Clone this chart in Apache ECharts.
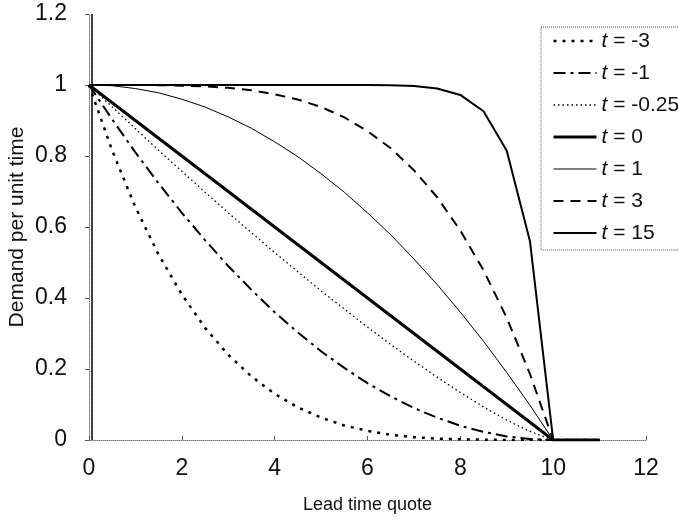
<!DOCTYPE html>
<html>
<head>
<meta charset="utf-8">
<script src="https://cdn.jsdelivr.net/npm/echarts@6/dist/echarts.min.js"></script>
<style>
html,body{margin:0;padding:0;background:#fff;}
#c{width:678px;height:520px;}
</style>
</head>
<body>
<div id="c"></div>
<script>
// Lead time quote values (x)
var leadTimes = [0,0.5,1,1.5,2,2.5,3,3.5,4,4.5,5,5.5,6,6.5,7,7.5,8,8.5,9,9.5,10,11];
var seriesNames = ['t = -3','t = -1','t = -0.25','t = 0','t = 1','t = 3','t = 15'];
var tMinus3 = [1,0.815,0.656,0.522,0.41,0.316,0.24,0.179,0.13,0.092,0.063,0.041,0.026,0.015,0.008,0.004,0.002,0.001,0,0,0,0];
var tMinus1 = [1,0.903,0.81,0.723,0.64,0.563,0.49,0.423,0.36,0.303,0.25,0.203,0.16,0.123,0.09,0.063,0.04,0.023,0.01,0.003,0,0];
var tMinus025 = [1,0.938,0.877,0.816,0.757,0.698,0.64,0.584,0.528,0.474,0.42,0.369,0.318,0.269,0.222,0.177,0.134,0.093,0.056,0.024,0,0];
var tZero = [1,0.95,0.9,0.85,0.8,0.75,0.7,0.65,0.6,0.55,0.5,0.45,0.4,0.35,0.3,0.25,0.2,0.15,0.1,0.05,0,0];
var tOne = [1,0.998,0.99,0.978,0.96,0.938,0.91,0.878,0.84,0.798,0.75,0.698,0.64,0.578,0.51,0.438,0.36,0.278,0.19,0.098,0,0];
var tThree = [1,1,1,0.9995,0.998,0.996,0.992,0.985,0.974,0.959,0.938,0.909,0.87,0.822,0.76,0.684,0.59,0.478,0.344,0.186,0,0];
var tFifteen = [1,1,1,1,1,1,1,1,1,1,1,1,1,0.999,0.997,0.99,0.972,0.926,0.815,0.56,0,0];
var xTicks = [0,2,4,6,8,10,12];
var yTicks = [0,0.2,0.4,0.6,0.8,1,1.2];

var values = [tMinus3,tMinus1,tMinus025,tZero,tOne,tThree,tFifteen];
var styles = [
  {width:2.5,type:[3,6]},
  {width:2,type:[12,5,3,5]},
  {width:1.3,type:[1.5,3]},
  {width:3,type:'solid'},
  {width:1,type:'solid'},
  {width:2,type:[10,7]},
  {width:2,type:'solid'}
];
function pairs(arr){ return leadTimes.map(function(x,i){return [x,arr[i]];}); }

var series = seriesNames.map(function(n,i){
  return {
    name:n, type:'line', data:pairs(values[i]), symbol:'none', smooth:false,
    lineStyle:{color:'#000',width:styles[i].width,type:styles[i].type},
    itemStyle:{color:'#000'}, z: 3, animation:false
  };
});
series[0].markLine = {
  silent:true, symbol:'none', label:{show:false},
  lineStyle:{color:'#000',type:'solid',width:1.5},
  data:[{xAxis:0.07}]
};

var chart = echarts.init(document.getElementById('c'));
chart.setOption({
  animation:false,
  backgroundColor:'#fff',
  textStyle:{fontFamily:'Liberation Sans, Arial, sans-serif'},
  grid:{left:89,right:32,top:14,bottom:80,containLabel:false,outerBoundsMode:'none'},
  legend:{
    show:true,
    orient:'vertical', left:541, top:27,
    data:seriesNames,
    itemWidth:43, itemHeight:14, itemGap:10,
    padding:[3,8,6,11],
    borderColor:'#555', borderWidth:1, borderType:'dotted',
    backgroundColor:'#fff',
    itemStyle:{color:'rgba(0,0,0,0)',borderWidth:0,opacity:0},
    lineStyle:{width:'inherit',type:'inherit'},
    formatter:function(n){ return '{i|t}' + n.slice(1); },
    textStyle:{color:'#111',fontSize:21,lineHeight:22,rich:{i:{fontStyle:'italic',fontSize:21,lineHeight:22,color:'#111'}}}
  },
  xAxis:{
    type:'value', min:0, max:12, interval:2,
    name:'Lead time quote', nameLocation:'middle', nameGap:56, nameMoveOverlap:false,
    nameTextStyle:{color:'#111',fontSize:18},
    axisLine:{show:true,lineStyle:{color:'#777',type:'dotted',width:1}},
    axisTick:{show:true,inside:true,length:4,lineStyle:{color:'#555'}},
    axisLabel:{color:'#111',fontSize:23,margin:17},
    splitLine:{show:false}
  },
  yAxis:{
    type:'value', min:0, max:1.2, interval:0.2,
    name:'Demand per unit time', nameLocation:'middle', nameGap:61, nameRotate:90, nameMoveOverlap:false,
    nameTextStyle:{color:'#111',fontSize:21},
    axisLine:{show:true,lineStyle:{color:'#777',type:'dotted',width:1}},
    axisTick:{show:true,inside:false,length:4,lineStyle:{color:'#555'}},
    axisLabel:{color:'#111',fontSize:23,margin:22},
    splitLine:{show:false}
  },
  series:series
});
</script>
</body>
</html>
